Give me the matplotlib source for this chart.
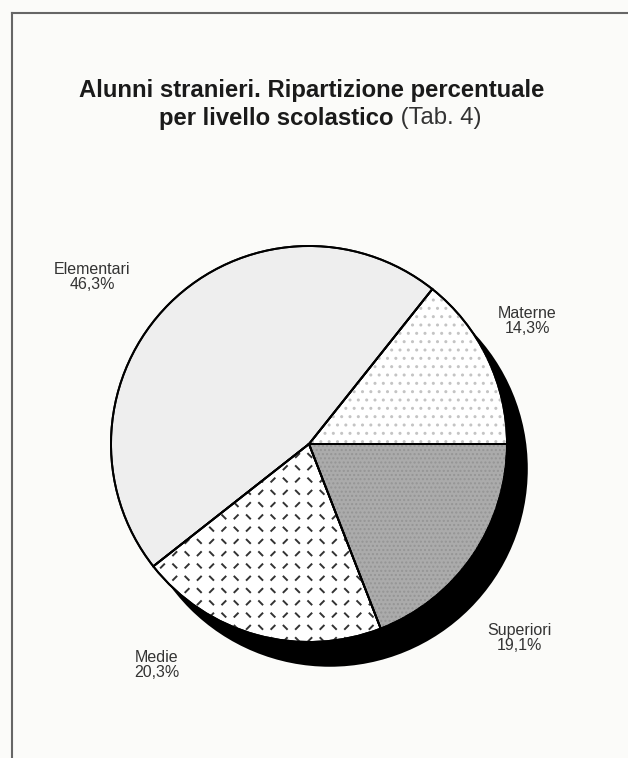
import numpy as np
import matplotlib
matplotlib.use("Agg")
import matplotlib.pyplot as plt
from matplotlib.patches import Circle, Wedge
from matplotlib.collections import LineCollection
from matplotlib.lines import Line2D

# Alunni stranieri per livello scolastico (%)
livelli = ["Materne", "Elementari", "Medie", "Superiori"]
quote = [14.3, 46.3, 20.3, 19.1]
etichette = ["Materne\n14,3%", "Elementari\n46,3%", "Medie\n20,3%", "Superiori\n19,1%"]

plt.rcParams["font.family"] = ["Liberation Sans", "DejaVu Sans"]

W, H = 628, 758
BG = "#fbfbf9"
fig = plt.figure(figsize=(W / 100, H / 100), dpi=100)
fig.patch.set_facecolor(BG)

# pie centre and radius in pixels
cx, cy, r = 309, 444, 198
ax = fig.add_axes([(cx - r) / W, (H - cy - r) / H, 2 * r / W, 2 * r / H])

# drop shadow
ax.add_patch(Circle((0.105, -0.125), 1.0, facecolor="black", edgecolor="none",
                    clip_on=False, zorder=0))

fills = ["white", "#eeeeee", "white", "#ababab"]
wedges, _ = ax.pie(quote, startangle=0, counterclock=True, radius=1.0,
                   colors=fills, frame=True,
                   wedgeprops=dict(edgecolor="black", linewidth=1.4))
ax.set_xlim(-1, 1)
ax.set_ylim(-1, 1)
ax.axis("off")
for w in wedges:
    w.set_clip_on(False)
    w.set_zorder(2)

# sparse stipple on the Materne slice
m = wedges[0]
ax.add_patch(Wedge((0, 0), 1.0, m.theta1, m.theta2, facecolor="none",
                   edgecolor="#c4c4c4", linewidth=0, hatch="..", zorder=2.5))

# fine dots on the Superiori slice
s = wedges[3]
ax.add_patch(Wedge((0, 0), 1.0, s.theta1, s.theta2, facecolor="none",
                   edgecolor="#959595", linewidth=0, hatch="....", zorder=2.5))

# diamond-plate dashes on the Medie slice
md = wedges[2]
step, half = 0.062, 0.012
segs = []
for i, gx in enumerate(np.arange(-1.05, 1.05, step)):
    for j, gy in enumerate(np.arange(-1.05, 1.05, step)):
        sgn = 1 if (i + j) % 2 == 0 else -1
        segs.append([(gx - half, gy - sgn * half), (gx + half, gy + sgn * half)])
lc = LineCollection(segs, colors="#333333", linewidths=1.4, zorder=2.5)
ax.add_collection(lc)
lc.set_clip_path(md)

# outlines on top of the textures
for w in wedges:
    ax.add_patch(Wedge((0, 0), 1.0, w.theta1, w.theta2, facecolor="none",
                       edgecolor="black", linewidth=1.4, zorder=3, clip_on=False))

# slice labels (pixel positions converted to data units)
label_px = [(527, 321), (92, 277), (157, 665), (519, 638)]
for txt, (px, py) in zip(etichette, label_px):
    ax.text((px - cx) / r, (cy - py) / r, txt, ha="center", va="center",
            fontsize=11.5, color="#333333", linespacing=1.0, clip_on=False)

# title
FS = 17.2
fig.text(312 / W, 1 - 90 / H, "Alunni stranieri. Ripartizione percentuale",
         ha="center", va="center", fontsize=FS, fontweight="bold", color="#1a1a1a")
renderer = fig.canvas.get_renderer()
t1 = fig.text(0, 1 - 118 / H, "per livello scolastico", ha="left", va="center",
              fontsize=FS, fontweight="bold", color="#1a1a1a")
t2 = fig.text(0, 1 - 118 / H, " (Tab. 4)", ha="left", va="center",
              fontsize=FS, color="#333333")
w1 = t1.get_window_extent(renderer).width
w2 = t2.get_window_extent(renderer).width
x0 = 320 - (w1 + w2) / 2
t1.set_x(x0 / W)
t2.set_x((x0 + w1) / W)

# frame lines
fig.add_artist(Line2D([12 / W, 12 / W], [0, 1 - 13 / H], color="#666666", linewidth=1.5))
fig.add_artist(Line2D([12 / W, 1], [1 - 13 / H, 1 - 13 / H], color="#666666", linewidth=1.5))

fig.savefig("out.png", dpi=100, facecolor=BG)
